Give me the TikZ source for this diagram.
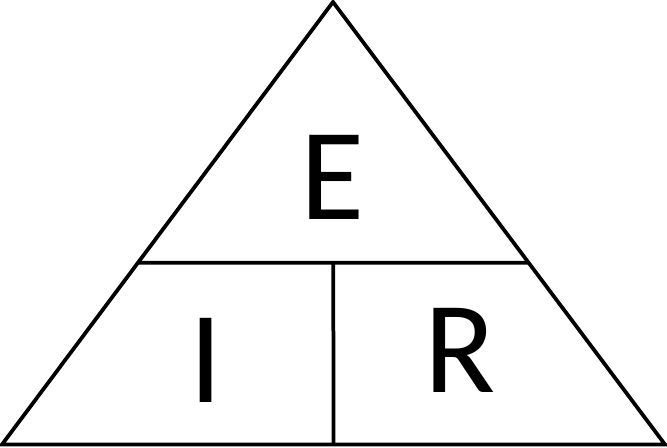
\documentclass[tikz,border=0pt]{standalone}
\usepackage{fontspec}
\setmainfont{Carlito}
\usetikzlibrary{calc}
\begin{document}
\begin{tikzpicture}[line cap=round,line join=miter,x=0.03cm,y=0.03cm,font=\fontsize{112}{112}\selectfont]
		\useasboundingbox (0,0) rectangle (667,448);
		\tikzset{side/.style={line width=3.2pt},letter/.style={inner sep=0pt}}
		\coordinate (T) at (333,446);
		\coordinate (BL) at (2,3.5);
		\coordinate (BR) at (665,3.5);
		\coordinate (L) at ($(T)!0.589!(BL)$);
		\coordinate (R) at ($(T)!0.589!(BR)$);
		\coordinate (M) at ($(L)!0.5!(R)$);
		\coordinate (B) at ($(BL)!0.5!(BR)$);
		\draw[side] (T)-- (BL)-- (BR)-- cycle;
		\draw[side,line cap=butt] (L)-- (R) (M)-- (B);
		\node[letter] (e) at (333,270.5) {E};
		\node[letter] (i) at (206.5,87.5) {I};
		\node[letter] (r) at (460,97.5) {R};
	\end{tikzpicture}
\end{document}
